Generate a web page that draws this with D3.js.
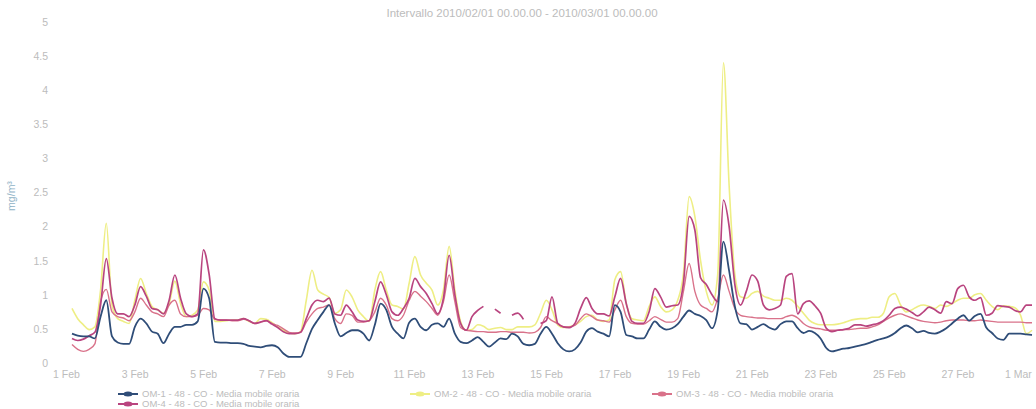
<!DOCTYPE html>
<html>
<head>
<meta charset="utf-8">
<script src="https://cdn.jsdelivr.net/npm/d3@7"></script>
<style>
  html, body { margin: 0; padding: 0; background: #ffffff; }
  svg { display: block; font-family: "Liberation Sans", Arial, sans-serif; }
</style>
</head>
<body>
<svg id="chart" width="1036" height="409"></svg>
<script>
// ---- data (4-hour samples, 1 Feb 2010 00:00 -> 1 Mar 2010 00:00) ----
const titleText = "Intervallo 2010/02/01 00.00.00 - 2010/03/01 00.00.00";
const yTitle = "mg/m\u00b3";
const stepHours = 4;
const yTicks = [0, 0.5, 1, 1.5, 2, 2.5, 3, 3.5, 4, 4.5, 5];
const xTickDays = ["2010-02-01","2010-02-03","2010-02-05","2010-02-07","2010-02-09","2010-02-11","2010-02-13",
                   "2010-02-15","2010-02-17","2010-02-19","2010-02-21","2010-02-23","2010-02-25","2010-02-27","2010-03-01"];
const seriesNames = ["OM-1 - 48 - CO - Media mobile oraria", "OM-2 - 48 - CO - Media mobile oraria",
                     "OM-3 - 48 - CO - Media mobile oraria", "OM-4 - 48 - CO - Media mobile oraria"];

const om1 = [
 0.43,0.40,0.39,0.39,0.36,0.68, 0.92,0.39,0.30,0.28,0.28,0.53, 0.65,0.58,0.46,0.43,0.29,0.43,
 0.53,0.53,0.56,0.56,0.61,1.09, 0.95,0.31,0.30,0.30,0.29,0.29, 0.28,0.25,0.24,0.23,0.25,0.26,
 0.23,0.14,0.09,0.09,0.09,0.29, 0.50,0.63,0.75,0.85,0.58,0.39, 0.44,0.48,0.48,0.43,0.33,0.56,
 0.87,0.78,0.53,0.43,0.36,0.59, 0.65,0.53,0.48,0.56,0.58,0.53, 0.65,0.43,0.31,0.29,0.33,0.38,
 0.31,0.24,0.30,0.36,0.35,0.43, 0.39,0.28,0.26,0.28,0.43,0.53, 0.43,0.29,0.20,0.17,0.20,0.30,
 0.46,0.51,0.46,0.43,0.39,0.85, 0.75,0.41,0.39,0.36,0.36,0.49, 0.61,0.53,0.49,0.51,0.57,0.68,
 0.77,0.72,0.69,0.63,0.51,0.78, 1.78,1.35,0.83,0.58,0.57,0.49, 0.53,0.57,0.52,0.49,0.57,0.61,
 0.61,0.51,0.44,0.47,0.44,0.36, 0.22,0.17,0.19,0.21,0.22,0.24, 0.26,0.28,0.31,0.34,0.36,0.39,
 0.44,0.51,0.55,0.51,0.45,0.47, 0.44,0.43,0.46,0.51,0.58,0.65, 0.70,0.62,0.69,0.72,0.52,0.44,
 0.36,0.34,0.43,0.43,0.43,0.42, 0.41];

const om2 = [
 0.80,0.65,0.56,0.49,0.53,1.07, 2.05,0.85,0.65,0.61,0.58,0.92, 1.24,1.02,0.83,0.78,0.73,0.87,
 1.20,0.87,0.68,0.70,0.78,1.19, 1.07,0.61,0.61,0.62,0.63,0.63, 0.65,0.61,0.58,0.65,0.64,0.59,
 0.53,0.48,0.44,0.43,0.46,0.92, 1.36,1.07,1.01,0.96,0.73,0.78, 1.07,0.97,0.78,0.68,0.61,1.07,
 1.34,1.07,0.85,0.83,0.79,1.17, 1.56,1.29,1.17,1.07,0.85,1.07, 1.71,1.07,0.61,0.48,0.49,0.56,
 0.54,0.49,0.51,0.52,0.49,0.49, 0.53,0.53,0.53,0.56,0.73,0.92, 0.78,0.56,0.52,0.53,0.56,0.61,
 0.68,0.70,0.63,0.61,0.63,1.22, 1.34,0.87,0.65,0.63,0.62,0.83, 0.97,0.83,0.75,0.78,0.92,1.31,
 2.44,2.15,1.50,1.05,0.85,1.30, 4.40,2.60,1.30,0.97,0.95,1.02, 1.05,0.98,0.95,0.92,0.92,0.95,
 0.92,0.83,0.73,0.63,0.58,0.56, 0.56,0.56,0.57,0.59,0.62,0.64, 0.65,0.65,0.67,0.67,0.73,0.97,
 1.02,0.85,0.75,0.78,0.83,0.85, 0.83,0.80,0.85,0.83,0.87,0.92, 0.95,0.95,1.00,1.02,0.92,0.83,
 0.78,0.84,0.83,0.81,0.70,0.43, 0.48];

const om3 = [
 0.27,0.20,0.17,0.20,0.28,0.90, 1.08,0.75,0.68,0.66,0.62,0.75, 0.95,0.85,0.75,0.72,0.68,0.85,
 0.92,0.72,0.68,0.68,0.70,0.80, 0.78,0.64,0.63,0.63,0.62,0.62, 0.64,0.62,0.58,0.60,0.62,0.58,
 0.55,0.50,0.45,0.44,0.45,0.60, 0.72,0.80,0.82,0.85,0.65,0.58, 0.72,0.70,0.60,0.60,0.62,0.75,
 0.95,0.85,0.65,0.62,0.70,0.92, 1.05,0.98,0.90,0.80,0.70,0.90, 1.29,0.90,0.52,0.48,0.47,0.46,
 0.46,0.45,0.45,0.46,0.46,0.45, 0.45,0.45,0.44,0.45,0.52,0.68, 0.62,0.58,0.53,0.53,0.55,0.65,
 0.72,0.68,0.63,0.62,0.60,0.78, 0.92,0.68,0.58,0.57,0.57,0.62, 0.68,0.64,0.60,0.60,0.65,1.05,
 1.46,1.05,0.85,0.80,0.75,0.95, 1.29,1.05,0.80,0.70,0.68,0.67, 0.66,0.66,0.65,0.65,0.65,0.68,
 0.70,0.66,0.58,0.53,0.51,0.50, 0.48,0.48,0.48,0.49,0.49,0.50, 0.51,0.51,0.53,0.56,0.61,0.66,
 0.70,0.72,0.69,0.66,0.63,0.61, 0.60,0.59,0.60,0.62,0.63,0.63, 0.63,0.62,0.62,0.63,0.62,0.61,
 0.60,0.60,0.60,0.60,0.60,0.59, 0.59];

const om4 = [
 0.36,0.33,0.35,0.40,0.45,0.85, 1.53,0.95,0.72,0.72,0.68,0.85, 1.12,0.98,0.80,0.78,0.72,0.92,
 1.29,0.95,0.72,0.68,0.72,1.66, 1.30,0.65,0.63,0.63,0.63,0.63, 0.65,0.62,0.58,0.60,0.62,0.57,
 0.52,0.46,0.43,0.43,0.45,0.65, 0.85,0.92,0.90,0.95,0.72,0.70, 0.85,0.75,0.63,0.61,0.62,0.90,
 1.19,1.00,0.75,0.70,0.80,0.95, 1.24,1.12,1.02,0.87,0.72,0.95, 1.58,1.00,0.58,0.48,0.68,0.77,
 0.83,null,0.79,0.73,null,0.70, 0.73,0.64,null,null,0.58,0.62, 0.97,0.58,0.53,0.52,0.58,0.80,
 0.96,0.80,0.72,0.72,0.69,0.97, 1.24,0.87,0.61,0.58,0.58,0.75, 1.09,0.97,0.82,0.84,0.85,1.17,
 2.15,1.95,1.25,1.15,1.00,0.90, 2.39,2.00,1.15,0.85,1.05,1.29, 1.20,0.85,0.78,0.80,0.85,1.27,
 1.31,0.72,0.87,0.91,0.84,0.73, 0.51,0.46,0.48,0.49,0.51,0.56, 0.56,0.54,0.56,0.58,0.62,0.70,
 0.80,0.82,0.79,0.74,0.69,0.75, 0.82,0.78,0.73,0.90,0.87,1.09, 1.14,0.97,0.92,0.96,0.70,0.73,
 0.84,0.83,0.82,0.77,0.75,0.85, 0.85];

const seriesColors = ["#2f4d78", "#eeee84", "#d9728a", "#b9447f"];

// ---- drawing ----
const svg = d3.select("#chart");
const start = new Date(Date.UTC(2010, 1, 1));
const end = new Date(Date.UTC(2010, 2, 1));
const x = d3.scaleUtc().domain([start, end]).range([72, 1032]);
const y = d3.scaleLinear().domain([0, 5]).range([363, 22]);
const textColor = "#bcbcbc";

const timeAt = i => d3.utcHour.offset(start, i * stepHours);

// title
svg.append("text").attr("x", 522).attr("y", 17).attr("text-anchor", "middle")
  .attr("font-size", 11.5).attr("fill", textColor).text(titleText);

// y axis
const yAxis = d3.axisLeft(y).tickValues(yTicks).tickSize(0).tickPadding(0)
  .tickFormat(d => d3.format("")(d));
const gy = svg.append("g").attr("transform", "translate(48,0)").call(yAxis);
gy.select(".domain").remove();
gy.selectAll("text").attr("fill", textColor).attr("font-size", 10.5)
  .attr("font-family", "Liberation Sans, Arial, sans-serif");

svg.append("text").attr("transform", "translate(15,196) rotate(-90)")
  .attr("text-anchor", "middle").attr("font-size", 10.5).attr("fill", "#8fb2c6").text(yTitle);

// x axis
const xTicks = xTickDays.map(s => new Date(s + "T00:00:00Z"));
const xAxis = d3.axisBottom(x).tickValues(xTicks).tickSize(0).tickPadding(0)
  .tickFormat(d3.utcFormat("%-d %b"));
const gx = svg.append("g").attr("transform", "translate(-6,371)").call(xAxis);
gx.select(".domain").remove();
gx.selectAll("text").attr("fill", textColor).attr("font-size", 10.5)
  .attr("font-family", "Liberation Sans, Arial, sans-serif");
gx.selectAll(".tick").filter((d, i) => i === xTicks.length - 1)
  .select("text").attr("text-anchor", "end").attr("dx", "0.5em");

// lines
const line = d3.line()
  .defined(d => d != null)
  .x((d, i) => x(timeAt(i)))
  .y(d => y(d))
  .curve(d3.curveMonotoneX);

const allSeries = [om2, om3, om4, om1];
const allColors = [seriesColors[1], seriesColors[2], seriesColors[3], seriesColors[0]];
const widths = [1.6, 1.4, 1.7, 1.8];
allSeries.forEach((s, k) => {
  svg.append("path").datum(s)
    .attr("fill", "none").attr("stroke", allColors[k])
    .attr("stroke-width", widths[k]).attr("stroke-linejoin", "round")
    .attr("d", (d) => line(d));
});

// legend
const legendItems = [
  { name: seriesNames[0], color: seriesColors[0], lx: 118, ly: 394 },
  { name: seriesNames[1], color: seriesColors[1], lx: 410, ly: 394 },
  { name: seriesNames[2], color: seriesColors[2], lx: 652, ly: 394 },
  { name: seriesNames[3], color: seriesColors[3], lx: 118, ly: 404 }
];
const lg = svg.append("g");
legendItems.forEach(it => {
  const g = lg.append("g").attr("transform", `translate(${it.lx},${it.ly})`);
  g.append("line").attr("x1", 0).attr("x2", 20).attr("y1", 0).attr("y2", 0)
    .attr("stroke", it.color).attr("stroke-width", 2);
  g.append("ellipse").attr("cx", 10).attr("cy", 0).attr("rx", 4.5).attr("ry", 2.5).attr("fill", it.color);
  g.append("text").attr("x", 24).attr("y", 3.2).attr("font-size", 9.5).attr("fill", textColor)
    .text(it.name);
});
</script>
</body>
</html>
